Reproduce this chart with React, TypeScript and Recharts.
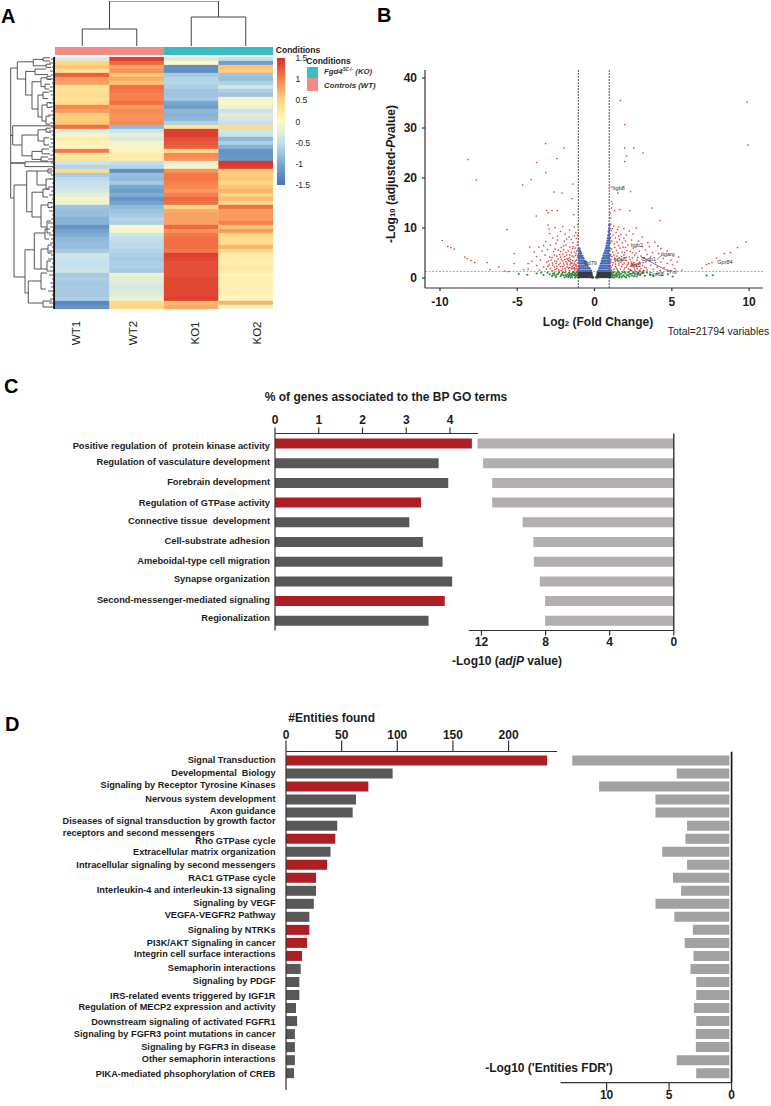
import {
  BarChart,
  Bar,
  Cell,
  ReferenceDot,
  ReferenceLine,
  Scatter,
  ScatterChart,
  XAxis,
  YAxis,
} from 'recharts'
import type { CSSProperties, ReactNode } from 'react'

const FONT = '"Liberation Sans", Arial, sans-serif'
const RED = '#AE1F24'
const DARK = '#58585A'

// ---- Panel A: heatmap, one z-score per row and sample ----
const wt1Z = [-0.3, 0.5, 0.6, 0.35, 1.2, 0.85, 0.8, 0.35, 0.35, 0.4, 0.35, 0.45, 0.95, 0.85, 0.55, 0.55, 0.6, 1.1, -0.25, -0.1, 0.2, 0.1, 0.05, 1.05, 0.25, 0.3, -0.4, -0.6, 0.45, -0.7, -0.55, -0.5, -0.45, -0.35, -0.2, -0.1, -0.15, -0.75, -0.8, -0.8, -0.9, -0.9, -1.2, -1.05, -0.95, -0.85, -0.8, -0.8, -0.7, -0.4, -0.45, -0.5, -0.45, -0.4, -0.7, -0.65, -0.7, -0.7, -0.7, -0.7, -0.65, -1.3, -1.2]
const wt2Z = [1.4, 1.15, 0.8, 0.9, 0.6, 0.75, 0.6, 1.1, 1.05, 1.0, 1.0, 1.1, 0.85, 0.95, 0.9, 0.9, 0.95, -0.85, -0.45, -0.2, -0.3, -0.1, -0.05, 0.1, 0.2, 0.2, -0.5, -0.6, -1.25, -0.8, -0.85, -0.7, -1.0, -1.1, -0.95, -1.2, -1.05, -0.85, -0.75, -0.7, -0.6, -0.65, -0.05, -0.1, -0.4, -0.5, -0.55, -0.55, -0.6, -0.65, -0.7, -0.65, -0.65, -0.7, -0.15, -0.25, -0.25, -0.35, -0.3, -0.25, -0.15, 0.45, 0.5]
const ko1Z = [-0.3, 0.0, -1.25, -1.25, -0.7, -0.6, -0.6, -0.65, -0.75, -0.75, -0.7, -1.0, -1.1, -0.85, -0.9, -0.85, -0.65, 0.3, 1.4, 1.4, 1.3, 1.25, 1.2, 0.4, 0.95, 0.9, -0.2, -0.1, 0.9, 1.05, 1.05, 1.0, 0.95, 0.85, 1.0, 1.15, 1.1, 0.4, 0.75, 0.8, 0.8, 0.8, 1.15, 0.9, 1.05, 1.1, 1.1, 1.1, 1.05, 1.4, 1.35, 1.3, 1.3, 1.3, 1.3, 1.35, 1.35, 1.35, 1.35, 1.35, 1.4, 0.65, 0.75]
const ko2Z = [-0.5, -1.1, 0.6, 0.55, -0.75, -0.8, -0.65, -0.4, -0.65, -0.75, -0.1, -0.05, -0.15, -0.45, -0.25, -0.35, -0.5, 0.45, -0.4, -0.45, -0.85, -0.65, -0.9, -1.2, -1.2, -1.15, 1.45, 1.4, 0.6, 0.55, 0.6, 0.5, 0.6, 0.7, 0.5, 0.65, 0.45, 1.1, 0.85, 0.85, 0.85, 1.0, 0.6, 0.85, 0.5, 0.4, 0.4, 0.7, 0.45, 0.2, 0.2, 0.15, 0.25, 0.2, 0.1, 0.15, 0.15, 0.15, 0.15, 0.1, 0.05, 0.7, -0.1]
const sampleNames = ['WT1', 'WT2', 'KO1', 'KO2']
const sampleZ = [wt1Z, wt2Z, ko1Z, ko2Z]
const sampleTicks = [0.385, 1.426, 2.569, 3.7]
const colorBarTicks = [-1.5, -1, -0.5, 0, 0.5, 1, 1.5]
const colorStops = [
  { z: -1.5, c: [69, 117, 180] },
  { z: -1, c: [122, 168, 208] },
  { z: -0.5, c: [196, 224, 238] },
  { z: 0, c: [255, 250, 195] },
  { z: 0.5, c: [254, 214, 130] },
  { z: 1, c: [248, 128, 78] },
  { z: 1.5, c: [215, 48, 39] },
]
const conditionCounts = [{ controls: 2, ko: 2 }]

// sample tree: [x1, height1, x2, height2]
const sampleTree = [
  [0.5, 0, 0.5, 17], [0.5, 17, 1.5, 17], [1.5, 17, 1.5, 0],
  [2.5, 0, 2.5, 29], [2.5, 29, 3.5, 29], [3.5, 29, 3.5, 0],
  [1, 17, 1, 45], [1, 45, 3, 45], [3, 45, 3, 29],
]
// gene tree merges: [height, rowA, heightA, rowB, heightB]
const geneTree = [
  [44.3, 2.75, 37.7, 35.25, 41], [44.3, 19.6, 42.3, 19.6, 42.3], [44.3, 26.5, 30, 26.5, 30],
  [37.7, 1.2, 21.7, 5.5, 29.3], [21.7, 0.6, 12, 2.2, 9], [12, 0.2, 5, 1, 5], [9, 1.8, 4, 2.6, 4],
  [29.3, 3.6, 20, 9.5, 23], [20, 3, 9, 4.4, 7], [23, 6.2, 14, 13, 17], [14, 5.2, 8, 7.4, 10],
  [8, 4.8, 4, 5.6, 4], [10, 6.8, 5, 8, 6], [17, 9.5, 12, 15, 13], [12, 8.8, 6, 10.4, 7],
  [13, 12, 8, 16, 9], [8, 11.4, 4, 12.6, 4], [9, 14.8, 5, 16.8, 5],
  [42.3, 17.2, 0, 22, 33], [33, 19.5, 17, 24.7, 23], [17, 18.2, 9, 21, 11], [9, 17.8, 4, 18.8, 4],
  [11, 20.2, 6, 22, 6], [23, 23.6, 13, 25.6, 14], [13, 23, 6, 24.2, 5], [14, 25, 7, 26, 7],
  [30, 26.2, 0, 27.4, 0],
  [41, 32, 28.3, 55, 30], [28.3, 28.5, 18, 38.7, 23], [18, 28.5, 7, 32, 9], [7, 28, 3, 29, 3],
  [9, 30.5, 4, 33, 5], [23, 33.8, 12, 40, 14], [12, 33, 6, 35, 7], [14, 37, 7, 42.5, 8],
  [7, 36.4, 3, 37.6, 3], [8, 41, 4, 44, 4],
  [30, 48.2, 20.7, 59, 26.7], [26.7, 56, 14, 61.5, 12], [14, 54, 8, 58, 9], [12, 61, 3, 62.5, 3],
  [20.7, 44, 10, 53, 14], [10, 43, 5, 45.5, 6], [14, 48, 7, 53, 8], [7, 47, 3, 49, 3], [8, 51, 4, 53.5, 4],
]
const leafLengths = [4, 6, 3, 5, 4, 7, 3, 5, 6, 4, 3, 6, 5, 4, 7, 3, 5, 4, 6, 3, 5, 4, 6, 3, 5, 7, 4, 3, 6, 4, 5, 3, 7, 4, 6, 3, 5, 4, 6, 3, 4, 7, 5, 3, 6, 4, 5, 3, 6, 4, 7, 3, 5, 4, 6, 3, 5, 4, 7, 3, 5, 6, 4]

// ---- Panel B: volcano, [log2 fold change, -log10 p] ----
const redPoints = [
  [1.67, 35.5], [1.95, 30.7], [9.87, 35.2], [9.93, 26.6], [1.95, 26], [2.54, 26], [3.13, 25], [2.07, 24.4], [1.95, 23.3],
  [-3.17, 26.9], [-1.98, 26], [-2.43, 23.9], [-3.74, 23.1], [-8.2, 23.7], [-3.15, 21.1], [-7.65, 19.6], [-4.1, 19.7], [-4.65, 18.6],
  [-1.41, 18.8], [-2.63, 17.2], [-2.1, 17], [-1.45, 15.9], [1.5, 17], [2.33, 17.3], [1.1, 18.2], [1.1, 15.3], [1.15, 14.8], [1.1, 14],
  [3.7, 14], [1.3, 13.5], [1.63, 13.7], [2.28, 13.5], [4.24, 11.5], [-3.1, 13.5], [-3, 13.1], [-2.75, 13.5], [-2.4, 13.5], [-3.77, 12.4],
  [-1.35, 12.7], [-5.67, 9.7], [2.7, 10], [-1.08, 10.7], [1.02, 13], [1.05, 12],
  [-9.85, 7.5], [-9.5, 6.3], [-9.3, 6.1], [-9.07, 5.8], [-8.4, 4.2], [-8.25, 3.9], [-8, 3.5], [-7.75, 3.1], [-6.95, 3.1], [-6.75, 1.7],
  [-6.2, 2.2], [-5.8, 1.4], [-5.55, 1.3], [-5.2, 4.9], [-5.2, 2.9], [-4.6, 1.7], [-4.2, 6.2], [-4.3, 2.9],
  [9.8, 7.2], [9.25, 6.1], [8.8, 5.1], [8.4, 4.9], [7.9, 4], [7.6, 3.1], [7.4, 2.9], [7.25, 2.7], [6.95, 2],
  [-3.0, 10.6], [-2.95, 9.8], [-2.9, 8.9], [-2.55, 10.1], [-2.2, 9.3], [-2.05, 10.3], [-1.62, 9.6], [-1.3, 10.2], [-1.22, 9.1], [-1.65, 8.2],
  [-2.7, 8], [-3.15, 7.3], [-2.4, 7.6], [-1.95, 7.4], [-1.5, 7.7], [-1.18, 7.9], [-3.6, 6.2], [-3.3, 6.5], [-2.85, 6.6], [-2.5, 6.9],
  [-2.15, 6.1], [-1.85, 6.6], [-1.4, 6.3], [-1.12, 6.6], [-3.9, 5.2], [-3.4, 5.4], [-3.05, 5.7], [-2.65, 5.3], [-2.35, 5.6], [-2, 5.7],
  [-1.7, 5.4], [-1.3, 5.2], [-1.08, 5.6], [-3.75, 4.3], [-3.2, 4.6], [-2.9, 4.2], [-2.6, 4.6], [-2.25, 4.7], [-1.95, 4.3], [-1.6, 4.6],
  [-1.35, 4.2], [-1.1, 4.5], [-4.05, 3.4], [-3.5, 3.6], [-3.1, 3.2], [-2.8, 3.6], [-2.45, 3.3], [-2.15, 3.7], [-1.85, 3.3], [-1.55, 3.7],
  [-1.25, 3.4], [-1.05, 3.7], [-3.75, 2.5], [-3.3, 2.2], [-2.95, 2.6], [-2.6, 2.2], [-2.3, 2.7], [-2.05, 2.3], [-1.75, 2.7], [-1.45, 2.3],
  [-1.2, 2.7], [-1.04, 2.4], [-4.3, 1.8], [-3.55, 1.6], [-3.1, 1.8], [-2.75, 1.5], [-2.45, 1.9], [-2.15, 1.5], [-1.9, 1.9], [-1.62, 1.5],
  [-1.35, 1.9], [-1.12, 1.5], [-1.5, 3], [-1.72, 3.9], [-1.3, 2.1], [-2.5, 2.9], [-2.0, 3], [-1.2, 4.9], [-1.42, 5.9], [-1.15, 1.9],
  [1.05, 10.8], [1.25, 10.4], [1.55, 10.2], [1.9, 9.9], [2.25, 9.4], [1.08, 9.5], [1.4, 9.1], [1.7, 8.7], [2.05, 8.6], [2.5, 8.8],
  [3.1, 8.2], [1.06, 8.2], [1.35, 8], [1.62, 7.7], [2, 7.4], [2.4, 7.6], [2.85, 7.4], [3.45, 7.1], [3.9, 7.2], [4.1, 6.4], [1.04, 7],
  [1.28, 6.8], [1.55, 6.5], [1.85, 6.2], [2.15, 6.6], [3.1, 6.3], [3.55, 6.3], [4.3, 5.9], [4.7, 5.4], [1.1, 5.8], [1.42, 5.5],
  [1.78, 5.2], [2.1, 5.5], [2.45, 5.1], [2.9, 5.4], [3.3, 5.6], [3.75, 5.1], [4.15, 4.9], [5.1, 4.4], [5.45, 4.2], [1.05, 4.7],
  [1.9, 4.6], [2.25, 4.2], [2.6, 4.6], [3, 4.4], [3.4, 4.7], [4.45, 3.9], [4.95, 3.6], [5.35, 3.2], [2.05, 3.5], [2.4, 3.2],
  [2.75, 3.6], [3.15, 3.1], [3.55, 3.5], [3.95, 3.1], [4.3, 3.2], [4.7, 2.9], [5.05, 2.7], [1.05, 3.2], [1.35, 2.8], [1.7, 3.2],
  [2.1, 2.6], [2.5, 2.3], [2.85, 2.7], [3.25, 2.2], [3.65, 2.6], [4.05, 2.2], [4.5, 2.1], [5.2, 1.9], [5.65, 1.6], [1.08, 2.2],
  [1.4, 2], [1.75, 2.3], [2.2, 1.8], [2.6, 1.6], [3, 1.9], [3.4, 1.6], [3.8, 1.8], [4.25, 1.5], [4.75, 1.6], [1.1, 1.5],
  [1.5, 1.5], [1.9, 1.6], [2.35, 1.5], [2.75, 1.9], [3.2, 1.45], [1.3, 3.8], [1.6, 4.1],
]
const redDense = [
  [-1.08, 1.7], [-1.18, 2.3], [-1.28, 1.6], [-1.38, 2.5], [-1.48, 1.8], [-1.58, 2.6], [-1.68, 1.9], [-1.78, 2.2], [-1.88, 1.6], [-1.98, 2.6],
  [-2.08, 1.8], [-2.2, 2.3], [-2.32, 1.6], [-2.44, 2.4], [-2.56, 1.7], [-2.7, 2.6], [-2.86, 1.9], [-3.02, 2.3], [-1.08, 3], [-1.18, 3.6],
  [-1.3, 3], [-1.42, 3.5], [-1.54, 2.9], [-1.66, 3.4], [-1.78, 3], [-1.92, 3.7], [-2.06, 3.4], [-2.22, 3], [-2.36, 3.8], [-2.58, 3.4],
  [-2.72, 3], [-2.98, 3.4], [-1.1, 4.1], [-1.24, 4.5], [-1.45, 4.4], [-1.62, 4.1], [-1.8, 4.6], [-2.05, 4.8], [-2.2, 4.2], [-2.45, 4.4],
  [-2.75, 4.1], [-1.15, 5.4], [-1.5, 5.1], [-1.85, 5.1], [-2.2, 5.3], [-2.55, 5.8], [-1.25, 6], [-1.6, 6.2], [-2, 6.4], [-1.1, 7.2],
  [-1.4, 7.1], [-1.8, 7.8], [-1.3, 8.4], [-1.1, 8.6], [-1.9, 8.8], [-2.4, 8.4],
  [1.06, 1.7], [1.16, 2.6], [1.26, 1.7], [1.36, 2.3], [1.48, 1.75], [1.58, 2.6], [1.68, 1.8], [1.82, 2.7], [1.95, 2], [2.06, 2.2],
  [2.18, 2.8], [2.32, 1.7], [2.44, 2.7], [2.58, 2], [2.72, 2.3], [2.92, 1.55], [3.1, 2.5], [3.35, 2], [1.08, 3.7], [1.2, 3.1],
  [1.34, 3.3], [1.48, 3.6], [1.58, 3], [1.8, 3.5], [1.92, 3], [2.2, 3.1], [2.3, 3.7], [2.55, 3.1], [2.9, 3.2], [3.3, 3.2],
  [1.12, 4.3], [1.25, 4.6], [1.45, 4.4], [1.75, 4.3], [2.05, 4.1], [2.45, 4], [2.8, 4.1], [3.2, 4], [3.6, 4.2], [1.18, 5.2],
  [1.52, 5], [1.95, 5.1], [2.3, 5.3], [2.7, 5], [1.3, 6.1], [1.65, 6], [2, 6.1], [2.5, 6], [1.12, 7.4], [1.45, 7.2],
  [1.8, 7], [1.2, 8.6], [1.55, 8.4], [1.9, 8], [1.15, 9.9], [1.5, 9.7],
]
const bluePoints = [
  [-0.98, 1.45], [-0.85, 1.45], [-0.72, 1.45], [-0.59, 1.45], [-0.46, 1.45], [-0.33, 1.45], [-0.24, 1.45],
  [-0.98, 1.95], [-0.85, 1.95], [-0.72, 1.95], [-0.59, 1.95], [-0.46, 1.95], [-0.34, 1.95],
  [-0.98, 2.45], [-0.85, 2.45], [-0.72, 2.45], [-0.59, 2.45], [-0.46, 2.45],
  [-0.98, 2.95], [-0.85, 2.95], [-0.72, 2.95], [-0.59, 2.95], [-0.52, 3.0],
  [-0.98, 3.45], [-0.85, 3.45], [-0.72, 3.45], [-0.63, 3.4],
  [-0.98, 3.95], [-0.85, 3.95], [-0.74, 3.95],
  [-0.98, 4.45], [-0.88, 4.45], [-0.8, 4.4],
  [-0.98, 4.95], [-0.89, 4.95], [-0.98, 5.45], [-0.94, 5.4], [-0.99, 5.9],
  [0.26, 1.45], [0.36, 1.45], [0.49, 1.45], [0.62, 1.45], [0.75, 1.45], [0.88, 1.45], [0.98, 1.45],
  [0.33, 1.95], [0.44, 1.95], [0.57, 1.95], [0.7, 1.95], [0.83, 1.95], [0.96, 1.95],
  [0.38, 2.45], [0.5, 2.45], [0.63, 2.45], [0.76, 2.45], [0.89, 2.45], [0.98, 2.45],
  [0.44, 2.95], [0.56, 2.95], [0.69, 2.95], [0.82, 2.95], [0.95, 2.95],
  [0.49, 3.45], [0.61, 3.45], [0.74, 3.45], [0.87, 3.45], [0.98, 3.45],
  [0.54, 3.95], [0.67, 3.95], [0.8, 3.95], [0.93, 3.95],
  [0.59, 4.45], [0.72, 4.45], [0.85, 4.45], [0.97, 4.45],
  [0.64, 4.95], [0.77, 4.95], [0.9, 4.95], [0.7, 5.45], [0.83, 5.45], [0.95, 5.45],
  [0.75, 5.95], [0.87, 5.95], [0.97, 5.95], [0.79, 6.45], [0.91, 6.45], [0.82, 6.95], [0.95, 6.95],
  [0.85, 7.45], [0.96, 7.45], [0.88, 7.95], [0.97, 7.95], [0.9, 8.5], [0.97, 8.8], [0.93, 9.3], [0.96, 9.9], [0.96, 10.6],
]
const blackPoints = [
  [-0.98, 1.05], [-0.85, 1.05], [-0.72, 1.05], [-0.59, 1.05], [-0.46, 1.05], [-0.33, 1.05], [-0.22, 1.05],
  [-0.98, 0.65], [-0.85, 0.65], [-0.72, 0.65], [-0.59, 0.65], [-0.46, 0.65], [-0.33, 0.65], [-0.2, 0.65],
  [-0.98, 0.25], [-0.85, 0.25], [-0.72, 0.25], [-0.59, 0.25], [-0.46, 0.25], [-0.33, 0.25], [-0.2, 0.25], [-0.13, 0.15],
  [0.22, 1.05], [0.33, 1.05], [0.46, 1.05], [0.59, 1.05], [0.72, 1.05], [0.85, 1.05], [0.98, 1.05],
  [0.2, 0.65], [0.33, 0.65], [0.46, 0.65], [0.59, 0.65], [0.72, 0.65], [0.85, 0.65], [0.98, 0.65],
  [0.13, 0.15], [0.2, 0.25], [0.33, 0.25], [0.46, 0.25], [0.59, 0.25], [0.72, 0.25], [0.85, 0.25], [0.98, 0.25],
]
const greenPoints = [
  [-4.9, 0.8], [-4.35, 0.65], [-3.75, 0.9], [-3.45, 1.05], [-3.3, 0.6], [-3.05, 1.1], [-2.9, 0.75], [-2.75, 0.4], [-2.6, 1], [-2.45, 0.65],
  [-2.3, 1.15], [-2.2, 0.35], [-2.1, 0.85], [-2, 0.55], [-1.9, 1.1], [-1.82, 0.3], [-1.75, 0.75], [-1.65, 1.05], [-1.6, 0.45], [-1.52, 0.85],
  [-1.45, 0.2], [-1.4, 1.15], [-1.35, 0.6], [-1.28, 0.9], [-1.22, 0.3], [-1.18, 1.1], [-1.12, 0.7], [-1.08, 0.15], [-1.05, 0.95], [-1.03, 0.45],
  [-1.7, 0.2], [-2.5, 0.2], [-1.25, 0.12], [-1.55, 0.1], [-2.05, 1.15], [-1.35, 1.2], [-2.35, 0.85], [-2.7, 0.85], [-1.95, 0.15], [-1.5, 0.55],
  [-1.15, 0.45], [-1.3, 0.55], [-1.85, 0.6], [-1.68, 0.5], [-2.15, 0.6], [-2.6, 0.55], [-1.1, 1.2], [-1.2, 0.65], [-1.42, 0.8], [-1.6, 0.8],
  [1.05, 0.15], [1.07, 0.55], [1.1, 1], [1.15, 0.3], [1.2, 0.75], [1.25, 1.15], [1.3, 0.15], [1.35, 0.5], [1.4, 0.95], [1.45, 0.25],
  [1.5, 0.7], [1.58, 1.1], [1.62, 0.4], [1.7, 0.85], [1.75, 0.15], [1.82, 1.15], [1.88, 0.55], [1.95, 0.25], [2, 0.95], [2.1, 0.6],
  [2.18, 1.15], [2.25, 0.3], [2.32, 0.8], [2.42, 0.5], [2.5, 1.05], [2.6, 0.7], [2.72, 0.3], [2.82, 1], [2.95, 0.6], [3.1, 0.95],
  [3.25, 0.45], [3.4, 1.1], [3.6, 0.7], [3.8, 0.35], [4.05, 0.9], [4.35, 0.55], [4.75, 0.75], [5.05, 0.3], [7.25, 0.5], [7.65, 0.55],
  [1.2, 0.08], [1.6, 0.08], [2.05, 0.12], [1.12, 0.6], [1.28, 0.55], [1.42, 0.6], [1.6, 0.7], [1.8, 0.4], [2.2, 0.6], [2.55, 0.35], [2.8, 0.65],
  [1.15, 1.15], [1.5, 1.2], [1.95, 1.2],
]
const geneLabels = [
  { name: 'Itgb8', x: 1.56, y: 18 }, { name: 'Itgb2', x: 2.73, y: 6.5 }, { name: 'Itgam', x: 4.74, y: 4.7 },
  { name: 'Cyrp1', x: 3.5, y: 3.7 }, { name: 'Itga8', x: 1.62, y: 3.8 }, { name: 'Gpr84', x: 8.44, y: 3.1 },
  { name: 'Tnf', x: 5.06, y: 1.2 }, { name: 'Gpr65', x: 4, y: 0.7 }, { name: 'Ptk2', x: 2.66, y: 2.5 },
  { name: 'Cspg4', x: 2.73, y: 1.1 }, { name: 'Cd79', x: -0.28, y: 2.9 },
]
const geneLeaders = [
  [3.03, 4.2, 4.87, 1.2], [-1.84, 3.9, -1.1, 2.2], [4.05, 3.7, 4.35, 4.6], [3, 3.1, 2.3, 2.3], [-1.75, 2.2, -1.2, 1.8],
]

// ---- Panel C ----
const goTerms = [
  'Positive regulation of  protein kinase activity', 'Regulation of vasculature development', 'Forebrain development',
  'Regulation of GTPase activity', 'Connective tissue  development', 'Cell-substrate adhesion',
  'Ameboidal-type cell migration', 'Synapse organization', 'Second-messenger-mediated signaling', 'Regionalization',
]
const goPercent = [4.5, 3.74, 3.96, 3.34, 3.07, 3.38, 3.83, 4.05, 3.88, 3.51]
const goLogP = [12.25, 11.9, 11.33, 11.33, 9.43, 8.76, 8.73, 8.36, 8.03, 8.03]
const goHighlighted = ['Positive regulation of  protein kinase activity', 'Regulation of GTPase activity', 'Second-messenger-mediated signaling']
const goPercentTicks = [0, 1, 2, 3, 4]
const goLogPTicks = [0, 4, 8, 12]
const goLabelNudge = [2, -1, -1, 0, -1.3, -1, -1, -2.7, -1.3, -2.7]

// ---- Panel D ----
const pathways = [
  'Signal Transduction', 'Developmental  Biology', 'Signaling by Receptor Tyrosine Kinases', 'Nervous system development', 'Axon guidance',
  'Diseases of signal transduction by growth factor', 'Rho GTPase cycle', 'Extracellular matrix organization',
  'Intracellular signaling by second messengers', 'RAC1 GTPase cycle', 'Interleukin-4 and interleukin-13 signaling', 'Signaling by VEGF',
  'VEGFA-VEGFR2 Pathway', 'Signaling by NTRKs', 'PI3K/AKT Signaling in cancer', 'Integrin cell surface interactions',
  'Semaphorin interactions', 'Signaling by PDGF', 'IRS-related events triggered by IGF1R', 'Regulation of MECP2 expression and activity',
  'Downstream signaling of activated FGFR1', 'Signaling by FGFR3 point mutations in cancer', 'Signaling by FGFR3 in disease',
  'Other semaphorin interactions', 'PIKA-mediated phsophorylation of CREB',
]
const pathwayEntities = [234.6, 95.8, 74, 62.9, 59.9, 46, 44.3, 40, 37, 27, 27, 25, 21, 21, 19, 14.4, 13.2, 12, 12, 9, 10, 8, 8, 8, 7.2]
const pathwayLogFdr = [12.75, 4.39, 10.6, 6.09, 6.09, 3.56, 3.69, 5.55, 3.56, 4.69, 4.04, 6.09, 4.58, 3.1, 3.75, 3.05, 3.29, 2.83, 2.83, 3.02, 2.83, 2.86, 2.86, 4.39, 2.83]
const pathwayHighlighted = [
  'Signal Transduction', 'Signaling by Receptor Tyrosine Kinases', 'Rho GTPase cycle', 'Intracellular signaling by second messengers',
  'RAC1 GTPase cycle', 'Signaling by NTRKs', 'PI3K/AKT Signaling in cancer', 'Integrin cell surface interactions',
]
const entityTicks = [0, 50, 100, 150, 200]
const fdrTicks = [0, 5, 10]
const pathwayLabelNudge = [0.3, 0, -0.7, 0, -1.3, 0, 2.3, 0.3, 0.3, 1, 0, -0.7, -1, 0, 0.3, -1.3, -0.3, -0.3, 1, -0.3, 1.3, 0, 0.7, -0.3, 0.7]

const heatRows = wt1Z.map((_, i) => ({ row: i, WT1: 1, WT2: 1, KO1: 1, KO2: 1 }))
const goRows = goTerms.map((term, i) => ({ term, percent: goPercent[i], logP: goLogP[i] }))
const pathwayRows = pathways.map((name, i) => ({
  name,
  entities: pathwayEntities[i],
  logFdr: [0.18, pathwayLogFdr[i]],
}))

function zColor(z: number) {
  const hi = colorStops.findIndex((s) => z <= s.z)
  if (hi <= 0) return `rgb(${colorStops[0].c.join(',')})`
  const a = colorStops[hi - 1]
  const b = colorStops[hi]
  const t = (z - a.z) / (b.z - a.z)
  return `rgb(${a.c.map((v, k) => Math.round(v + (b.c[k] - v) * t)).join(',')})`
}

function Caption({ x, y, size = 12, weight = 700, children }: { x: number; y: number; size?: number; weight?: number; children: ReactNode }) {
  const style: CSSProperties = {
    position: 'absolute',
    left: x,
    top: y,
    transform: 'translate(-50%, -50%)',
    whiteSpace: 'pre',
    fontSize: size,
    fontWeight: weight,
    color: '#1c1c1c',
    lineHeight: 1,
  }
  return <div style={style}>{children}</div>
}

const small: CSSProperties = { fontSize: '0.65em' }

const boldTick = { fontSize: 12, fontWeight: 700, fill: '#1c1c1c', fontFamily: FONT }
const axisStroke = { stroke: '#333', strokeWidth: 1.2 }

const dot = (r: number, fill: string) => (p: any) => <circle cx={p.cx} cy={p.cy} r={r} fill={fill} />
const noDot = () => null

const toXY = (pts: number[][]) => pts.map(([x, y]) => ({ x, y }))

// one dendrogram link drawn as a two point scatter line
function link(key: string, x1: number, y1: number, x2: number, y2: number, width = 0.9, stroke = '#444') {
  return (
    <Scatter
      key={key}
      data={[{ x: x1, y: y1 }, { x: x2, y: y2 }]}
      shape={noDot}
      line={{ stroke, strokeWidth: width }}
      isAnimationActive={false}
    />
  )
}

function labelTick(nudges: number[], size: number) {
  return function LabelTick({ x, y, index, payload }: any) {
    const yy = y + nudges[index]
    const common = { fontSize: size, fontWeight: 700, fill: '#1c1c1c', fontFamily: FONT, textAnchor: 'end' as const, style: { whiteSpace: 'pre' as const } }
    if (payload.value.startsWith('Diseases of')) {
      return (
        <g>
          <text {...common} x={x} y={y - 1}>{payload.value}</text>
          <text {...common} x={x - 61} y={y + 10.5}>receptors and second messengers</text>
        </g>
      )
    }
    return <text {...common} x={x} y={yy} dy="0.34em">{payload.value}</text>
  }
}

function SampleTick({ x, payload }: any) {
  const y = 276
  const name = sampleNames[sampleTicks.indexOf(payload.value)]
  return (
    <text transform={`rotate(-90 ${x} ${y})`} x={x} y={y} dy="0.35em" textAnchor="middle" fontSize={11.5} fill="#222" fontFamily={FONT}>
      {name}
    </text>
  )
}

function Heatmap() {
  return (
    <>
      {/* column tree */}
      <div style={{ position: 'absolute', left: 55, top: 1 }}>
        <ScatterChart width={218} height={45} margin={{ top: 0, right: 0, bottom: 0, left: 0 }}>
          <XAxis type="number" dataKey="x" domain={[0, 4]} hide />
          <YAxis type="number" dataKey="y" domain={[0, 45]} hide />
          {sampleTree.map(([x1, y1, x2, y2], i) => link(`s-${i}`, x1, y1, x2, y2, 1))}
        </ScatterChart>
      </div>
      {/* condition strip */}
      <div style={{ position: 'absolute', left: 55, top: 46.5 }}>
        <BarChart width={218} height={8.5} data={conditionCounts} layout="vertical" barCategoryGap={0} margin={{ top: 0, right: 0, bottom: 0, left: 0 }}>
          <XAxis type="number" domain={[0, 4]} hide />
          <YAxis type="category" hide />
          <Bar dataKey="controls" stackId="c" fill="#F08B86" isAnimationActive={false} />
          <Bar dataKey="ko" stackId="c" fill="#3CBCC6" isAnimationActive={false} />
        </BarChart>
      </div>
      {/* row tree */}
      <div style={{ position: 'absolute', left: 5, top: 57 }}>
        <ScatterChart width={50} height={252} margin={{ top: 0, right: 0, bottom: 0, left: 0 }}>
          <XAxis type="number" dataKey="x" domain={[0, 50]} reversed hide />
          <YAxis type="number" dataKey="y" domain={[0, 63]} reversed hide />
          {leafLengths.map((len, i) => link(`leaf-${i}`, 0, i + 0.5, len, i + 0.5, 0.8, '#333'))}
          {link('edge', 0.8, 0, 0.8, 63, 2, '#111')}
          {geneTree.flatMap(([h, ra, ha, rb, hb], i) => [
            link(`v-${i}`, h, ra, h, rb),
            link(`a-${i}`, ha, ra, h, ra),
            link(`b-${i}`, hb, rb, h, rb),
          ])}
        </ScatterChart>
      </div>
      {/* z-score cells */}
      <div style={{ position: 'absolute', left: 55, top: 57 }}>
        <BarChart width={218} height={302} data={heatRows} layout="vertical" barCategoryGap={0} margin={{ top: 0, right: 0, bottom: 0, left: 0 }}>
          <XAxis type="number" domain={[0, 4]} ticks={sampleTicks} interval={0} height={50} axisLine={false} tickLine={false} tick={<SampleTick />} />
          <YAxis type="category" dataKey="row" hide />
          {sampleNames.map((name, s) => (
            <Bar key={name} dataKey={name} stackId="h" isAnimationActive={false}>
              {heatRows.map((_, i) => {
                const fill = zColor(sampleZ[s][i])
                return <Cell key={i} fill={fill} stroke={fill} strokeWidth={0.3} />
              })}
            </Bar>
          ))}
        </BarChart>
      </div>
      {/* colour key */}
      <div style={{ position: 'absolute', left: 277.3, top: 51.5 }}>
        <BarChart width={36} height={139} data={[{ key: 'z', range: [-1.5, 1.5] }]} barCategoryGap={0} margin={{ top: 6, right: 0, bottom: 6, left: 0 }}>
          <defs>
            <linearGradient id="zkey" x1="0" y1="1" x2="0" y2="0">
              {colorStops.map((s) => (
                <stop key={s.z} offset={`${((s.z + 1.5) / 3) * 100}%`} stopColor={zColor(s.z)} />
              ))}
            </linearGradient>
          </defs>
          <XAxis dataKey="key" hide />
          <YAxis orientation="right" width={27.6} domain={[-1.5, 1.5]} ticks={colorBarTicks} interval={0} axisLine={false} tickLine={false} tickMargin={4} tickFormatter={(v: number) => String(v)} tick={{ fontSize: 8.5, fill: '#222', fontFamily: FONT }} />
          <Bar dataKey="range" fill="url(#zkey)" isAnimationActive={false} />
        </BarChart>
      </div>
      <Caption x={298} y={50} size={8.5}>Conditions</Caption>
      <Caption x={328.5} y={61} size={8.5}>Conditions</Caption>
      <div style={{ position: 'absolute', left: 306.7, top: 66.7, width: 11.7, height: 11.6, background: '#3CBCC6' }} />
      <div style={{ position: 'absolute', left: 306.7, top: 78.3, width: 11.7, height: 12.4, background: '#F08B86' }} />
      <div style={{ position: 'absolute', left: 324, top: 68, fontSize: 7.8, fontStyle: 'italic', fontWeight: 700, color: '#333', whiteSpace: 'pre', lineHeight: 1 }}>
        Fgd4<span style={{ fontSize: 4.5, verticalAlign: 3 }}>SC-/-</span> (KO)
      </div>
      <div style={{ position: 'absolute', left: 324, top: 82, fontSize: 7.8, fontStyle: 'italic', fontWeight: 700, color: '#333', whiteSpace: 'pre', lineHeight: 1 }}>
        Controls (WT)
      </div>
    </>
  )
}

function Volcano() {
  return (
    <>
      <div style={{ position: 'absolute', left: 370, top: 60 }}>
        <ScatterChart width={395} height={258} margin={{ top: 10, right: 2, bottom: 0, left: 0 }}>
          <XAxis type="number" dataKey="x" domain={[-10.97, 10.9]} ticks={[-10, -5, 0, 5, 10]} allowDataOverflow height={30} axisLine={axisStroke} tickLine={axisStroke} tickSize={3} tickMargin={6} tick={boldTick} />
          <YAxis type="number" dataKey="y" domain={[-2, 41.6]} ticks={[0, 10, 20, 30, 40]} allowDataOverflow width={55} axisLine={axisStroke} tickLine={axisStroke} tickSize={3} tickMargin={5} tick={boldTick} />
          <Scatter data={toXY(greenPoints)} shape={dot(1.1, '#2E8B3E')} isAnimationActive={false} />
          <Scatter data={toXY(blackPoints)} shape={dot(1.5, '#3A3A3C')} isAnimationActive={false} />
          <Scatter data={toXY(bluePoints)} shape={dot(1.35, '#4468B8')} isAnimationActive={false} />
          <Scatter data={toXY(redPoints)} shape={dot(0.85, '#E5413F')} isAnimationActive={false} />
          <Scatter data={toXY(redDense)} shape={dot(0.85, '#E5413F')} isAnimationActive={false} />
          <ReferenceLine segment={[{ x: -1.05, y: -2 }, { x: -1.05, y: 41.6 }]} stroke="#555" strokeDasharray="2 1" strokeWidth={1} />
          <ReferenceLine segment={[{ x: 0.95, y: -2 }, { x: 0.95, y: 41.6 }]} stroke="#555" strokeDasharray="2 1" strokeWidth={1} />
          <ReferenceLine y={1.3} stroke="#999" strokeDasharray="2 1.5" strokeWidth={0.8} />
          {geneLeaders.map(([x1, y1, x2, y2], i) => (
            <ReferenceLine key={i} segment={[{ x: x1, y: y1 }, { x: x2, y: y2 }]} stroke="#222" strokeWidth={0.6} />
          ))}
          {geneLabels.map((g) => (
            <ReferenceDot key={g.name} x={g.x} y={g.y} r={0} stroke="none" label={{ value: g.name, position: 'center', fontSize: 5.5, fill: '#333', fontFamily: FONT }} />
          ))}
        </ScatterChart>
      </div>
      <div style={{ position: 'absolute', left: 390.7, top: 174, transform: 'translate(-50%, -50%) rotate(-90deg)', whiteSpace: 'pre', fontSize: 12, fontWeight: 700, color: '#1c1c1c', lineHeight: 1 }}>
        -Log<span style={small}>10</span> (adjusted-<i>P</i>value)
      </div>
      <Caption x={598} y={322} size={12}>Log<span style={small}>2</span> (Fold Change)</Caption>
      <Caption x={718.5} y={332} size={10.4} weight={400}>Total=21794 variables</Caption>
    </>
  )
}

function GoPanel() {
  return (
    <>
      <div style={{ position: 'absolute', left: 0, top: 400 }}>
        <BarChart width={480} height={231} data={goRows} layout="vertical" barSize={10} margin={{ top: 3.5, right: 2, bottom: 0.5, left: 0 }}>
          <XAxis type="number" orientation="top" domain={[0, 4.64]} ticks={goPercentTicks} allowDataOverflow height={30} axisLine={axisStroke} tickLine={axisStroke} tickSize={6} tickMargin={4} tick={boldTick} />
          <YAxis type="category" dataKey="term" width={275} interval={0} axisLine={axisStroke} tickLine={false} tickSize={0} tickMargin={5} tick={labelTick(goLabelNudge, 9.3)} />
          <Bar dataKey="percent" isAnimationActive={false}>
            {goRows.map((r) => (
              <Cell key={r.term} fill={goHighlighted.includes(r.term) ? RED : DARK} />
            ))}
          </Bar>
        </BarChart>
      </div>
      <div style={{ position: 'absolute', left: 460, top: 400 }}>
        <BarChart width={220} height={260.5} data={goRows} layout="vertical" barSize={10} margin={{ top: 33.5, right: 6.2, bottom: 0, left: 8.8 }}>
          <XAxis type="number" reversed domain={[0, 12.79]} ticks={goLogPTicks} allowDataOverflow height={30} axisLine={axisStroke} tickLine={axisStroke} tickSize={5} tick={boldTick} />
          <YAxis type="category" dataKey="term" hide />
          <Bar dataKey="logP" fill="#B3AEB0" isAnimationActive={false} />
          <ReferenceLine x={0} stroke="#222" strokeWidth={1.3} />
        </BarChart>
      </div>
      <Caption x={386} y={397.3} size={12}>% of genes associated to the BP GO terms</Caption>
      <Caption x={507} y={661} size={12}>-Log10 (<i>adjP</i> value)</Caption>
    </>
  )
}

function PathwayPanel() {
  return (
    <>
      <div style={{ position: 'absolute', left: 0, top: 720 }}>
        <BarChart width={560} height={370} data={pathwayRows} layout="vertical" barSize={10} margin={{ top: 1.5, right: 3, bottom: 0, left: 0 }}>
          <XAxis type="number" orientation="top" domain={[0, 243.5]} ticks={entityTicks} allowDataOverflow height={30} axisLine={axisStroke} tickLine={axisStroke} tickSize={11} tick={boldTick} />
          <YAxis type="category" dataKey="name" width={286} interval={0} padding={{ top: 2, bottom: 10.8 }} axisLine={axisStroke} tickLine={false} tickSize={0} tickMargin={10.5} tick={labelTick(pathwayLabelNudge, 9.2)} />
          <Bar dataKey="entities" isAnimationActive={false}>
            {pathwayRows.map((r) => (
              <Cell key={r.name} fill={pathwayHighlighted.includes(r.name) ? RED : DARK} />
            ))}
          </Bar>
        </BarChart>
      </div>
      <div style={{ position: 'absolute', left: 550, top: 740 }}>
        <BarChart width={190} height={362} data={pathwayRows} layout="vertical" barSize={10} margin={{ top: 11.7, right: 8.4, bottom: 0, left: 10.6 }}>
          <XAxis type="number" reversed domain={[0, 13.68]} ticks={fdrTicks} allowDataOverflow height={19.3} axisLine={axisStroke} tickLine={axisStroke} tickSize={8} tickMargin={0} tick={boldTick} />
          <YAxis type="category" dataKey="name" hide padding={{ top: 1.8, bottom: 3.5 }} />
          <Bar dataKey="logFdr" fill="#A3A1A3" isAnimationActive={false} />
          <ReferenceLine x={0} stroke="#111" strokeWidth={1.6} />
        </BarChart>
      </div>
      <Caption x={331.7} y={717.5}>#Entities found</Caption>
      <Caption x={549} y={1068.3} size={12}>-Log10 ('Entities FDR')</Caption>
    </>
  )
}

export default function App() {
  const letter = (text: string, left: number, top: number) => (
    <div style={{ position: 'absolute', left, top, fontSize: 20, fontWeight: 700, lineHeight: 1, color: '#000' }}>{text}</div>
  )
  return (
    <div style={{ position: 'absolute', left: 0, top: 0, width: 771, height: 1106, background: '#fff', fontFamily: FONT, overflow: 'hidden' }}>
      {letter('A', 1, 6)}
      {letter('B', 377, 5)}
      {letter('C', 4, 376)}
      {letter('D', 5, 714)}
      <Heatmap />
      <Volcano />
      <GoPanel />
      <PathwayPanel />
    </div>
  )
}
